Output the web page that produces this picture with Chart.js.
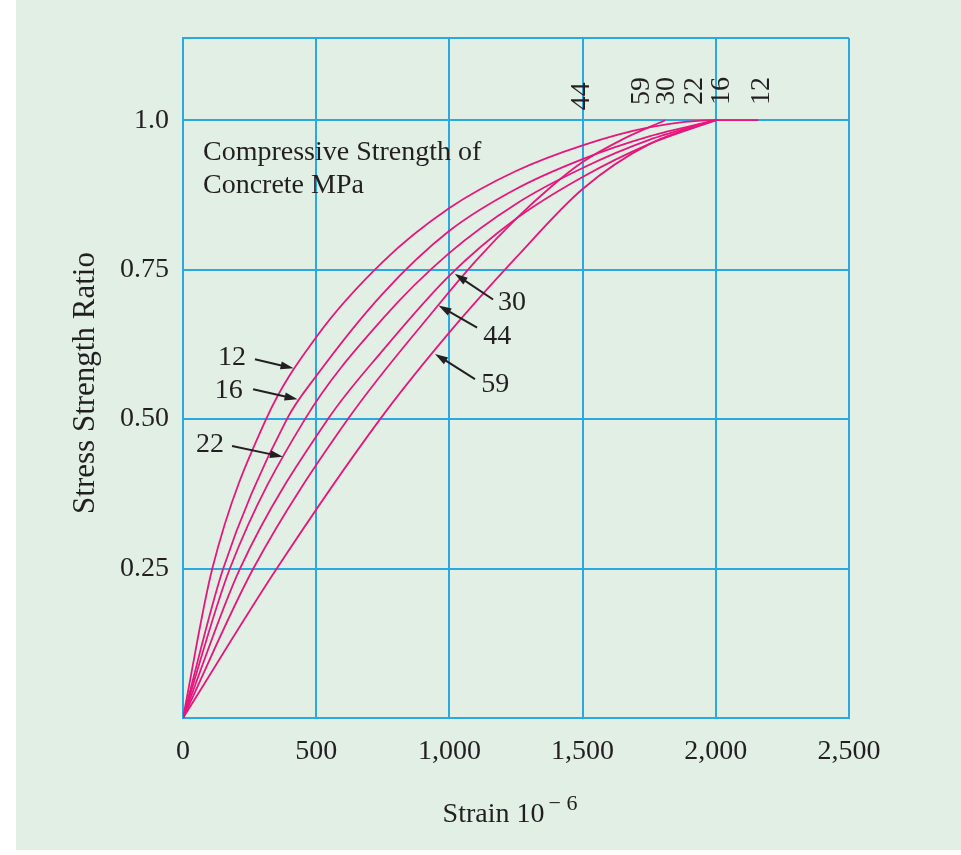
<!DOCTYPE html>
<html>
<head>
<meta charset="utf-8">
<script src="https://cdn.jsdelivr.net/npm/chart.js@4.4.1/dist/chart.umd.min.js"></script>
<style>
  html, body { margin: 0; padding: 0; background: #ffffff; }
  #wrap { position: relative; width: 961px; height: 855px; }
</style>
</head>
<body>
<div id="wrap"><canvas id="chart"></canvas></div>
<script>
// Datos (deformación x10^-6 vs relación tensión/resistencia)
const strengths = ['12', '16', '22', '30', '44', '59'];

const strain12 = [0, 110, 312, 500, 750, 1000, 1250, 1500, 1750, 2000, 2160];
const ratio12  = [0, 0.25, 0.50, 0.637, 0.763, 0.853, 0.915, 0.958, 0.988, 1.0, 1.0];

const strain16 = [0, 151, 390, 500, 750, 1000, 1250, 1500, 1750, 2000];
const ratio16  = [0, 0.25, 0.50, 0.572, 0.71, 0.815, 0.885, 0.935, 0.973, 1.0];

const strain22 = [0, 176, 458, 750, 1000, 1250, 1500, 1750, 2000];
const ratio22  = [0, 0.25, 0.50, 0.668, 0.778, 0.86, 0.92, 0.967, 1.0];

const strain30 = [0, 214, 544, 750, 1000, 1250, 1500, 1750, 2000];
const ratio30  = [0, 0.25, 0.50, 0.615, 0.74, 0.835, 0.905, 0.96, 1.0];

const strain44 = [0, 264, 619, 957, 1100, 1250, 1385, 1500, 1650, 1810];
const ratio44  = [0, 0.25, 0.50, 0.69, 0.765, 0.835, 0.89, 0.93, 0.968, 1.0];

const strain59 = [0, 352, 740, 1000, 1250, 1500, 1750, 2000];
const ratio59  = [0, 0.25, 0.50, 0.645, 0.77, 0.885, 0.96, 1.0];

const xTickValues = [0, 500, 1000, 1500, 2000, 2500];
const xTickLabels = ['0', '500', '1,000', '1,500', '2,000', '2,500'];
const yTickValues = [0.25, 0.50, 0.75, 1.0];
const yTickLabels = ['0.25', '0.50', '0.75', '1.0'];

const strainSeries = [strain12, strain16, strain22, strain30, strain44, strain59];
const ratioSeries  = [ratio12, ratio16, ratio22, ratio30, ratio44, ratio59];

// Colores
const BG = '#e2efe5';
const GRID = '#2aa9e1';
const CURVE = '#e6177c';
const INK = '#231f20';
const FONT = '"Liberation Serif", "Times New Roman", serif';
const Y_MAX = 1.1375;

// Etiquetas con flecha (texto, posición del texto, cola y punta de flecha en coordenadas de datos)
const arrowNotes = [
  { text: '12', at: [184, 0.602], from: [270, 0.600], to: [415, 0.585] },
  { text: '16', at: [172, 0.548], from: [263, 0.550], to: [430, 0.533] },
  { text: '22', at: [101, 0.458], from: [184, 0.455], to: [375, 0.437] },
  { text: '30', at: [1235, 0.694], from: [1164, 0.700], to: [1020, 0.743] },
  { text: '44', at: [1180, 0.638], from: [1104, 0.653], to: [959, 0.690] },
  { text: '59', at: [1172, 0.558], from: [1096, 0.567], to: [946, 0.609] }
];
// Etiquetas verticales sobre el extremo de cada curva
const topNotes = [
  { text: '44', at: [1498, 1.040] },
  { text: '59', at: [1723, 1.049] },
  { text: '30', at: [1817, 1.049] },
  { text: '22', at: [1922, 1.049] },
  { text: '16', at: [2023, 1.049] },
  { text: '12', at: [2173, 1.049] }
];

const datasets = strengths.map((s, i) => ({
  label: s + ' MPa',
  data: strainSeries[i].map((x, j) => ({ x: x, y: ratioSeries[i][j] })),
  borderColor: CURVE,
  backgroundColor: CURVE,
  borderWidth: 1.8,
  pointRadius: 0,
  fill: false,
  cubicInterpolationMode: 'monotone'
}));

// Fondo verde con margen blanco a la izquierda
const backgroundPlugin = {
  id: 'bg',
  beforeDraw(chart) {
    const ctx = chart.ctx;
    ctx.save();
    ctx.fillStyle = BG;
    ctx.fillRect(16, 0, chart.width - 16, 850);
    ctx.restore();
  }
};

function drawArrow(ctx, x1, y1, x2, y2) {
  const ang = Math.atan2(y2 - y1, x2 - x1);
  const head = 13, half = 4;
  ctx.beginPath();
  ctx.moveTo(x1, y1);
  ctx.lineTo(x2 - Math.cos(ang) * head * 0.8, y2 - Math.sin(ang) * head * 0.8);
  ctx.stroke();
  ctx.beginPath();
  ctx.moveTo(x2, y2);
  ctx.lineTo(x2 - Math.cos(ang) * head - Math.sin(ang) * half, y2 - Math.sin(ang) * head + Math.cos(ang) * half);
  ctx.lineTo(x2 - Math.cos(ang) * head + Math.sin(ang) * half, y2 - Math.sin(ang) * head - Math.cos(ang) * half);
  ctx.closePath();
  ctx.fill();
}

const notesPlugin = {
  id: 'notes',
  afterDraw(chart) {
    const ctx = chart.ctx;
    const xs = chart.scales.x, ys = chart.scales.y;
    const px = v => xs.getPixelForValue(v);
    const py = v => ys.getPixelForValue(v);
    ctx.save();
    ctx.fillStyle = INK;
    ctx.strokeStyle = INK;
    ctx.lineWidth = 2;
    ctx.font = '28px ' + FONT;

    // Título dentro del gráfico
    ctx.textAlign = 'left';
    ctx.textBaseline = 'alphabetic';
    ctx.fillText('Compressive Strength of', px(75), py(0.933));
    ctx.fillText('Concrete MPa', px(75), py(0.878));

    // Etiquetas con flecha
    ctx.textAlign = 'center';
    ctx.textBaseline = 'middle';
    arrowNotes.forEach(n => {
      ctx.fillText(n.text, px(n.at[0]), py(n.at[1]));
      drawArrow(ctx, px(n.from[0]), py(n.from[1]), px(n.to[0]), py(n.to[1]));
    });

    // Etiquetas verticales
    topNotes.forEach(n => {
      ctx.save();
      ctx.translate(px(n.at[0]), py(n.at[1]));
      ctx.rotate(-Math.PI / 2);
      ctx.fillText(n.text, 0, 0);
      ctx.restore();
    });

    // Título eje X con exponente
    const base = 822;
    const main = 'Strain 10';
    ctx.font = '28px ' + FONT;
    const w1 = ctx.measureText(main).width;
    ctx.font = '22px ' + FONT;
    const sup = '\u2212 6';
    const w2 = ctx.measureText(sup).width;
    const start = 510 - (w1 + 4 + w2) / 2;
    ctx.textAlign = 'left';
    ctx.textBaseline = 'alphabetic';
    ctx.font = '28px ' + FONT;
    ctx.fillText(main, start, base);
    ctx.font = '22px ' + FONT;
    ctx.fillText(sup, start + w1 + 4, base - 12);

    // Título eje Y
    ctx.font = '31px ' + FONT;
    ctx.save();
    ctx.translate(86, 383);
    ctx.rotate(-Math.PI / 2);
    ctx.textAlign = 'center';
    ctx.textBaseline = 'middle';
    ctx.fillText('Stress Strength Ratio', 0, 0);
    ctx.restore();

    ctx.restore();
  }
};

new Chart(document.getElementById('chart'), {
  type: 'line',
  data: { datasets: datasets },
  plugins: [backgroundPlugin, notesPlugin],
  options: {
    responsive: true,
    maintainAspectRatio: false,
    animation: false,
    layout: { padding: { left: 0, top: 38, right: 112, bottom: 0 } },
    plugins: { legend: { display: false }, tooltip: { enabled: false } },
    scales: {
      x: {
        type: 'linear',
        min: 0,
        max: 2500,
        afterFit: s => { s.height = 137; },
        afterBuildTicks: s => { s.ticks = xTickValues.map(v => ({ value: v })); },
        grid: { color: GRID, lineWidth: 2, drawTicks: false },
        border: { color: GRID, width: 2 },
        ticks: {
          padding: 17,
          color: INK,
          font: { family: FONT, size: 28 },
          maxRotation: 0,
          callback: v => {
            const i = xTickValues.indexOf(v);
            return i >= 0 ? xTickLabels[i] : '';
          }
        }
      },
      y: {
        type: 'linear',
        min: 0,
        max: Y_MAX,
        afterFit: s => { s.width = 183; },
        afterBuildTicks: s => { s.ticks = [0].concat(yTickValues, [Y_MAX]).map(v => ({ value: v })); },
        grid: { color: GRID, lineWidth: 2, drawTicks: false },
        border: { color: GRID, width: 2 },
        ticks: {
          padding: 14,
          color: INK,
          font: { family: FONT, size: 28 },
          callback: v => {
            const i = yTickValues.indexOf(v);
            return i >= 0 ? yTickLabels[i] : '';
          }
        }
      }
    }
  }
});
</script>
</body>
</html>
